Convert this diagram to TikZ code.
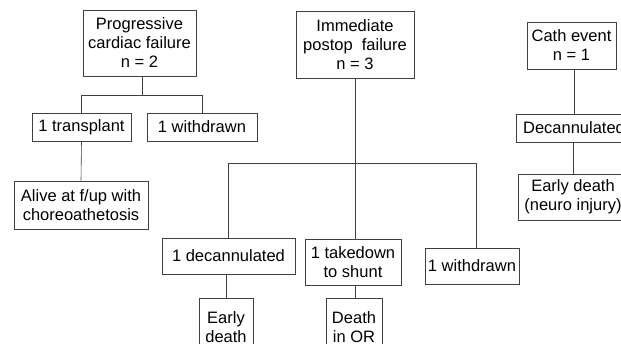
\documentclass[tikz,border=0pt]{standalone}
\usepackage{fontspec}
\setmainfont{Liberation Sans}
\usetikzlibrary{positioning}

\begin{document}
\begin{tikzpicture}[x=1pt,y=-1pt,font=\fontsize{16.5}{19}\selectfont,
  box/.style={draw=black!75,line width=.6pt,align=center,inner sep=0pt},
  link/.style={draw=black!75,line width=.6pt}]
\useasboundingbox (0,0) rectangle (621,343);
\clip (0,0) rectangle (621,343);
% three groups at the top
\node[box,minimum width=113,minimum height=66] (prog) at (139.5,43) {Progressive\\cardiac failure\\n = 2};
\node[box,minimum width=118,minimum height=67] (immed) at (355,44.5) {Immediate\\postop~ failure\\n = 3};
\node[box,minimum width=89,minimum height=47] (cath) at (571.5,45.5) {Cath event\\n = 1};
% progressive branch
\node[box,minimum width=99,minimum height=28] (transp) at (81.5,127) {1 transplant};
\node[box,minimum width=110,minimum height=28] (withdrA) at (202,127) {1 withdrawn};
\node[box,minimum width=134,minimum height=48] (alive) at (81,205) {Alive at f/up with\\choreoathetosis};
% postop branch
\node[box,minimum width=133,minimum height=36] (decanA) at (228.5,256) {1 decannulated};
\node[box,minimum width=96,minimum height=46] (takedown) at (353,262) {1 takedown\\to shunt};
\node[box,minimum width=94,minimum height=36] (withdrB) at (472,266) {1 withdrawn};
\node[box,minimum width=54,minimum height=58] (earlyA) at (226,327) {Early\\death};
\node[box,minimum width=56,minimum height=58] (deathOR) at (354,327) {Death\\in OR};
% cath branch
\node[box,minimum width=116,minimum height=28] (decanB) at (574,128) {Decannulated};
\node[box,minimum width=110,minimum height=46] (earlyB) at (573,197) {Early death\\(neuro injury)};
% connectors
\coordinate (jA) at (142,95);
\coordinate (jB) at (355,163);
\draw[link] (prog.south -| jA) -- (jA);
\draw[link] (transp.north) -- (transp.north |- jA) -- (withdrA.north |- jA) -- (withdrA.north);
\draw[link] (transp.south) -- (alive.north);
\draw[link] (immed.south -| jB) -- (takedown.north -| jB);
\draw[link] (decanA.north) -- (decanA.north |- jB) -- ([xshift=4]withdrB.north |- jB) -- ([xshift=4]withdrB.north);
\draw[link] (decanA.south) -- (decanA.south -| earlyA.north) -- (earlyA.north);
\draw[link] (takedown.south -| jB) -- (deathOR.north -| jB);
\draw[link] (cath.south -| decanB) -- (decanB.north);
\draw[link] (decanB.south) -- (decanB.south -| earlyB.north) -- (earlyB.north);
\end{tikzpicture}
\end{document}
